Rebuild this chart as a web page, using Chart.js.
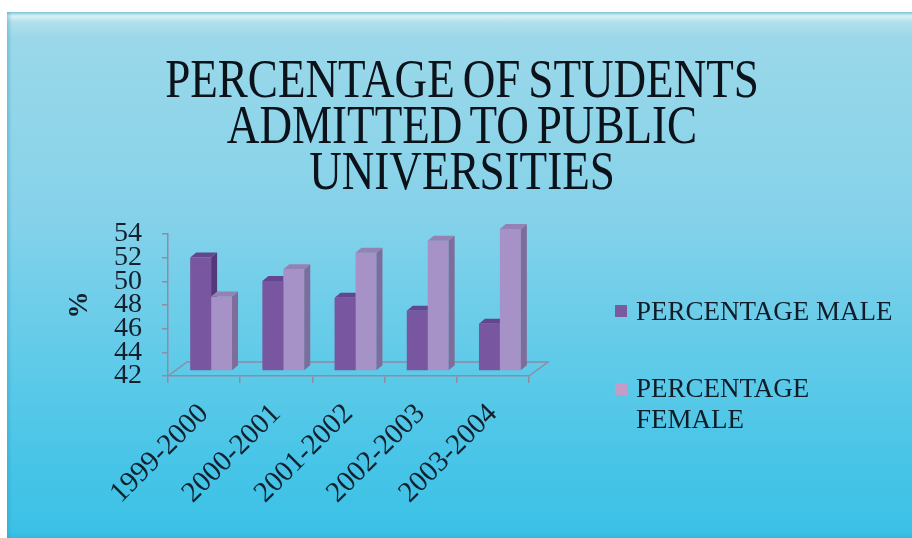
<!DOCTYPE html>
<html>
<head>
<meta charset="utf-8">
<script src="https://cdn.jsdelivr.net/npm/chart.js@4.4.0/dist/chart.umd.min.js"></script>
<style>
  html, body { margin: 0; padding: 0; background: #fff; }
  #wrap { position: relative; width: 912px; height: 538px; overflow: hidden; }
  #slide {
    position: absolute; left: 7px; top: 12px; width: 905px; height: 526px;
    background: linear-gradient(to bottom, #7cc6d4 0px, #d9f1f6 4px, #b2e0ec 10px, #9ad8e9 26px, #86d2ea 200px, #62cbe9 340px, #45c4e7 460px, #3bc1e6 520px, #36b8dc 526px);
  }
  #slide:before {
    content: ""; position: absolute; left: 0; top: 0; width: 5px; height: 100%;
    background: linear-gradient(to right, rgba(40,150,190,0.35), rgba(40,150,190,0));
  }
  #chart { position: absolute; left: 0; top: 0; }
  #title {
    position: absolute; left: 0; top: 56px; width: 924px;
    text-align: center; font-family: "Liberation Serif", serif; font-size: 55px; line-height: 46px;
    color: #0b121a; transform: scaleX(0.82); transform-origin: 462px 0; word-spacing: -4px;
  }
  .legend-item { position: absolute; left: 636px; font-family: "Liberation Serif", serif; font-size: 27px; line-height: 31px; color: #111c28; }
  .legend-box { position: absolute; width: 12px; height: 12px; left: 615px; }
</style>
</head>
<body>
<div id="wrap">
  <div id="slide"></div>
  <div id="title">PERCENTAGE OF STUDENTS<br>ADMITTED TO PUBLIC<br>UNIVERSITIES</div>
  <canvas id="chart" width="912" height="538"></canvas>
  <div class="legend-box" style="top:305px; background:#7b5a9e;"></div>
  <div class="legend-item" style="top:296px;">PERCENTAGE MALE</div>
  <div class="legend-box" style="top:383px; background:#c59bc8;"></div>
  <div class="legend-item" style="top:373px;">PERCENTAGE<br>FEMALE</div>
</div>
<script>
const categories = ['1999-2000', '2000-2001', '2001-2002', '2002-2003', '2003-2004'];
const maleValues = [51.6, 49.6, 48.2, 47.1, 46.0];
const femaleValues = [48.3, 50.6, 52.0, 53.0, 54.0];
const yTicks = [42, 44, 46, 48, 50, 52, 54];

const lineColor = '#8e8ba5';
const textColor = '#13202d';

// 3d look: bars sit in the middle of the floor, extruded up-right
const SHIFT = { dx: 7, dy: -5 };
const DEPTH = { dx: 6, dy: -5 };
const FLOOR = { dx: 19, dy: -14 };

function drawFaces(ctx, meta, sideColor, topColor) {
    meta.data.forEach(bar => {
        const l = bar.x - bar.width / 2;
        const r = bar.x + bar.width / 2;
        ctx.fillStyle = sideColor;
        ctx.beginPath();
        ctx.moveTo(r, bar.y);
        ctx.lineTo(r + DEPTH.dx, bar.y + DEPTH.dy);
        ctx.lineTo(r + DEPTH.dx, bar.base + DEPTH.dy);
        ctx.lineTo(r, bar.base);
        ctx.closePath();
        ctx.fill();
        ctx.fillStyle = topColor;
        ctx.beginPath();
        ctx.moveTo(l, bar.y);
        ctx.lineTo(l + DEPTH.dx, bar.y + DEPTH.dy);
        ctx.lineTo(r + DEPTH.dx, bar.y + DEPTH.dy);
        ctx.lineTo(r, bar.y);
        ctx.closePath();
        ctx.fill();
    });
}

const bars3d = {
    id: 'bars3d',
    beforeDatasetsDraw(chart) {
        const { ctx, chartArea: a } = chart;
        // floor
        ctx.save();
        ctx.strokeStyle = lineColor;
        ctx.lineWidth = 1.5;
        ctx.beginPath();
        ctx.moveTo(a.left, a.bottom);
        ctx.lineTo(a.left + FLOOR.dx, a.bottom + FLOOR.dy);
        ctx.lineTo(a.right + FLOOR.dx, a.bottom + FLOOR.dy);
        ctx.lineTo(a.right, a.bottom);
        ctx.stroke();
        ctx.restore();

        ctx.save();
        ctx.translate(SHIFT.dx, SHIFT.dy);
        // male faces go first so the female front covers them
        drawFaces(ctx, chart.getDatasetMeta(0), '#553879', '#634690');
    },
    afterDatasetsDraw(chart) {
        drawFaces(chart.ctx, chart.getDatasetMeta(1), '#7e6c9b', '#9482b2');
        chart.ctx.restore();
    }
};

new Chart(document.getElementById('chart'), {
    type: 'bar',
    data: {
        labels: categories,
        datasets: [
            { label: 'PERCENTAGE MALE', data: maleValues, backgroundColor: '#7957a0', base: yTicks[0], clip: false },
            { label: 'PERCENTAGE FEMALE', data: femaleValues, backgroundColor: '#a792c7', base: yTicks[0], clip: false }
        ]
    },
    options: {
        responsive: false,
        animation: false,
        layout: { padding: { left: 40, top: 234, right: 383, bottom: 0 } },
        datasets: { bar: { categoryPercentage: 0.58, barPercentage: 1.0, borderWidth: 0 } },
        plugins: { legend: { display: false }, tooltip: { enabled: false } },
        scales: {
            x: {
                afterFit: scale => { scale.height = 162; },
                grid: { display: true, drawOnChartArea: false, offset: true, tickLength: 7, color: lineColor, lineWidth: 1.5 },
                border: { color: lineColor, width: 1.5 },
                ticks: {
                    color: textColor, minRotation: 45, maxRotation: 45, padding: 14, autoSkip: false,
                    font: { family: 'Liberation Serif', size: 29 }
                }
            },
            y: {
                min: yTicks[0],
                max: yTicks[yTicks.length - 1],
                afterFit: scale => { scale.width = 128; },
                grid: { display: true, drawOnChartArea: false, tickLength: 6, color: lineColor, lineWidth: 1.5 },
                border: { color: lineColor, width: 1.5 },
                ticks: {
                    stepSize: yTicks[1] - yTicks[0], autoSkip: false, padding: 20, color: textColor,
                    font: { family: 'Liberation Serif', size: 28, lineHeight: 1.0 }
                },
                title: {
                    display: true, text: '%', color: textColor, padding: { top: 24, bottom: 0 },
                    font: { family: 'Liberation Serif', size: 27, weight: 'bold' }
                }
            }
        }
    },
    plugins: [bars3d]
});
</script>
</body>
</html>
